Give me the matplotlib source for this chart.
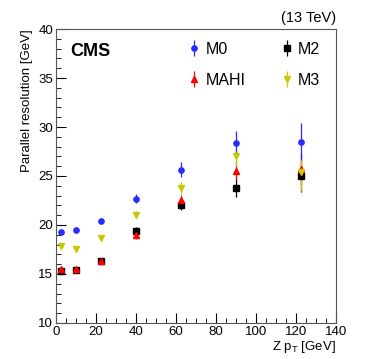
import matplotlib

matplotlib.use("Agg")
import matplotlib.pyplot as plt
from matplotlib.ticker import MultipleLocator

# Z pT bin centres (GeV)
z_pt = [2.5, 10, 22.5, 40, 62.5, 90, 122.5]

m0 = [19.25, 19.45, 20.4, 22.7, 25.65, 28.35, 28.5]
m0_err = [0.15, 0.15, 0.2, 0.45, 0.75, 1.25, 1.9]

mahi = [15.5, 15.55, 16.35, 18.95, 22.5, 25.55, 25.7]
mahi_err = [0.15, 0.15, 0.2, 0.35, 0.55, 1.0, 1.6]

m2 = [15.3, 15.45, 16.3, 19.4, 22.05, 23.8, 25.0]
m2_err = [0.15, 0.15, 0.2, 0.35, 0.5, 0.95, 1.65]

m3 = [17.85, 17.5, 18.65, 21.05, 23.8, 27.0, 25.4]
m3_err = [0.15, 0.15, 0.2, 0.35, 0.6, 1.0, 1.9]

plt.rcParams["font.family"] = ["Liberation Sans", "DejaVu Sans"]

fig = plt.figure(figsize=(3.74, 3.59), dpi=100)
ax = fig.add_axes([0.1497, 0.1003, 0.7487, 0.8189])

# drawing order: black under red, yellow, blue on top
series = [
    ("M2", m2, m2_err, "s", "#000000"),
    ("MAHI", mahi, mahi_err, "^", "#ff0000"),
    ("M3", m3, m3_err, "v", "#c8c800"),
    ("M0", m0, m0_err, "o", "#2a2aff"),
]
handles = {}
for label, vals, errs, marker, color in series:
    h = ax.errorbar(z_pt, vals, yerr=errs, fmt=marker, color=color, ecolor=color,
                    elinewidth=0.9, markersize=3.8, capsize=0, label=label)
    handles[label] = h

ax.set_xlim(0, 140)
ax.set_ylim(10, 40)
ax.xaxis.set_major_locator(MultipleLocator(20))
ax.xaxis.set_minor_locator(MultipleLocator(5))
ax.yaxis.set_major_locator(MultipleLocator(5))
ax.yaxis.set_minor_locator(MultipleLocator(1))
ax.tick_params(which="both", direction="in", top=False, right=False, labelsize=9.5, pad=2)
ax.tick_params(which="major", length=7)
ax.tick_params(which="minor", length=3.5)
for sp in ax.spines.values():
    sp.set_color("#555555")

ax.set_ylabel("Parallel resolution [GeV]", fontsize=9.5, loc="top", labelpad=4)
ax.set_xlabel("Z p$_{\\mathregular{T}}$ [GeV]", fontsize=9.5, loc="right", labelpad=1)

ax.text(1.0, 1.015, "(13 TeV)", transform=ax.transAxes, ha="right", va="bottom", fontsize=10.5)
ax.text(0.05, 0.925, "CMS", transform=ax.transAxes, ha="left", va="center",
        fontsize=13, fontweight="bold")

# column-major order so rows read M0 M2 / MAHI M3
leg = ax.legend([handles["M0"], handles["MAHI"], handles["M2"], handles["M3"]],
                ["M0", "MAHI", "M2", "M3"], ncol=2, frameon=False, fontsize=11.5,
                loc="upper left", bbox_to_anchor=(0.42, 1.005), handlelength=0.8,
                handletextpad=0.3, columnspacing=2.2, labelspacing=1.0)

fig.savefig("out.png", dpi=100)
